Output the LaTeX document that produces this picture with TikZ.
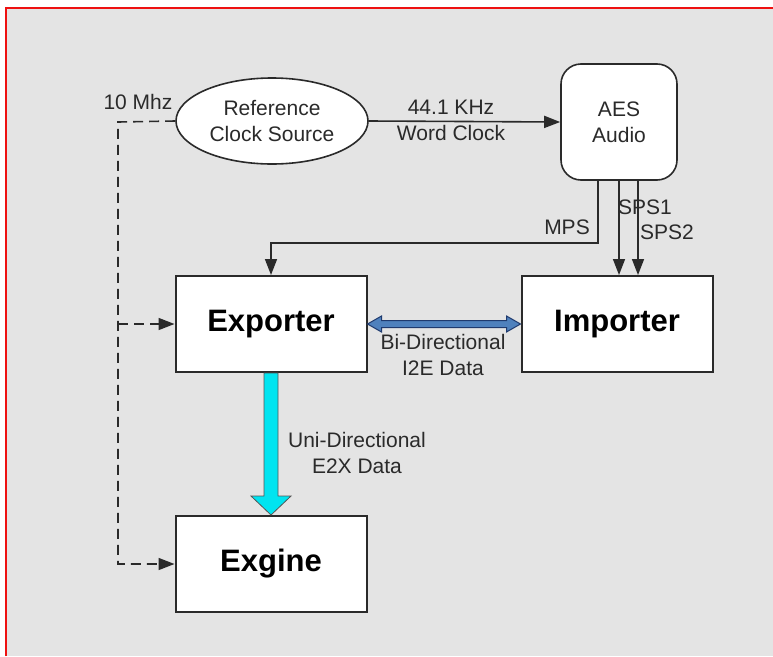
\documentclass[tikz,border=0pt]{standalone}
\usepackage{fontspec}
\setmainfont{Liberation Sans}
\usepackage{tikz}
\usetikzlibrary{positioning,arrows.meta,shapes.geometric,calc}
\usepackage{xcolor}
\definecolor{panelgray}{HTML}{E4E4E4}
\definecolor{framered}{HTML}{EE1111}
\definecolor{inkgray}{HTML}{2A2A2A}
\definecolor{bifill}{HTML}{4F81BD}
\definecolor{biline}{HTML}{1F3A6E}
\definecolor{unifill}{HTML}{00E4F0}

\begin{document}
\begin{tikzpicture}[x=1pt,y=-1pt,
  lbl/.style={text=inkgray, font=\fontsize{21}{26}\selectfont, align=center, inner sep=0pt},
  unit/.style={draw=inkgray, line width=2pt, fill=white, minimum width=191pt, minimum height=96pt,
    font=\fontsize{31}{36}\selectfont\bfseries, text=black},
  sig/.style={draw=inkgray, line width=1.6pt},
  tip/.style={-{Triangle[length=16pt,width=12pt]}},
  clk/.style={sig, dash pattern=on 10pt off 6pt}]

\useasboundingbox (0,0) rectangle (773,656);
\fill[white] (0,0) rectangle (773,656);
\fill[panelgray] (6,8) rectangle (773,656);
\draw[framered, line width=2pt] (6,656) -- (6,8) -- (773,8);

% sources
\node[ellipse, draw=inkgray, line width=1.6pt, fill=white, minimum width=192pt, minimum height=86pt,
  lbl] (refclk) at (272,121) {Reference\\Clock Source};
\node[draw=inkgray, line width=1.6pt, fill=white, rounded corners=20pt, minimum width=116pt,
  minimum height=116pt, lbl] (aes) at (619,122) {AES\\Audio};

% units
\node[unit] (exporter) at (271,324) {Exporter};
\node[unit] (importer) at (617,324) {Importer};
\node[unit] (exgine) at (271,564) {Exgine};

% word clock
\draw[sig, tip] (refclk.east) -- (aes.west);
\node[lbl] (wclk) at (451,120) {44.1 KHz\\Word Clock};

% 10 MHz reference, dashed
\node[lbl] (tenm) at (138,102) {10 Mhz};
\coordinate (tap) at (118,122);
\draw[clk] (refclk.west) -- (tap) |- ([xshift=-16pt]exgine.west);
\draw[clk] (tap |- exporter.west) -- ([xshift=-16pt]exporter.west);
\draw[sig, tip] ([xshift=-16pt]exporter.west) -- (exporter.west);
\draw[sig, tip] ([xshift=-16pt]exgine.west) -- (exgine.west);

% audio streams
\coordinate (mpsout) at ([xshift=-21pt]aes.south);
\coordinate (mpsbend) at (mpsout |- 0,243);
\draw[sig, tip] (mpsout) -- (mpsbend) -| (exporter.north);
\node[lbl] (mps) at (567,227) {MPS};
\draw[sig, tip] (aes.south) -- (aes.south |- importer.north);
\draw[sig, tip] ([xshift=19pt]aes.south) -- ([xshift=19pt]aes.south |- importer.north);
\node[lbl] (sps1) at (645,207) {SPS1};
\node[lbl] (sps2) at (667,232) {SPS2};

% I2E data, both ways
\filldraw[fill=bifill, draw=biline, line width=1pt]
  (exporter.east) -- ++(14,-8) -- ++(0,4.5) -- ($(importer.west)+(-14,-3.5)$) -- ++(0,-4.5)
  -- (importer.west) -- ++(-14,8) -- ++(0,-4.5) -- ($(exporter.east)+(14,3.5)$) -- ++(0,4.5) -- cycle;
\node[lbl] (i2e) at (443,355) {Bi-Directional\\I2E Data};

% E2X data, one way
\filldraw[fill=unifill, draw=inkgray!80, line width=0.8pt]
  ($(exporter.south)+(-7,0)$) -- ($(exgine.north)+(-7,-19)$) -- ++(-13,0) -- (exgine.north)
  -- ++(20,-19) -- ++(-13,0) -- ($(exporter.south)+(7,0)$) -- cycle;
\node[lbl] (e2x) at (357,453) {Uni-Directional\\E2X Data};

\end{tikzpicture}
\end{document}
